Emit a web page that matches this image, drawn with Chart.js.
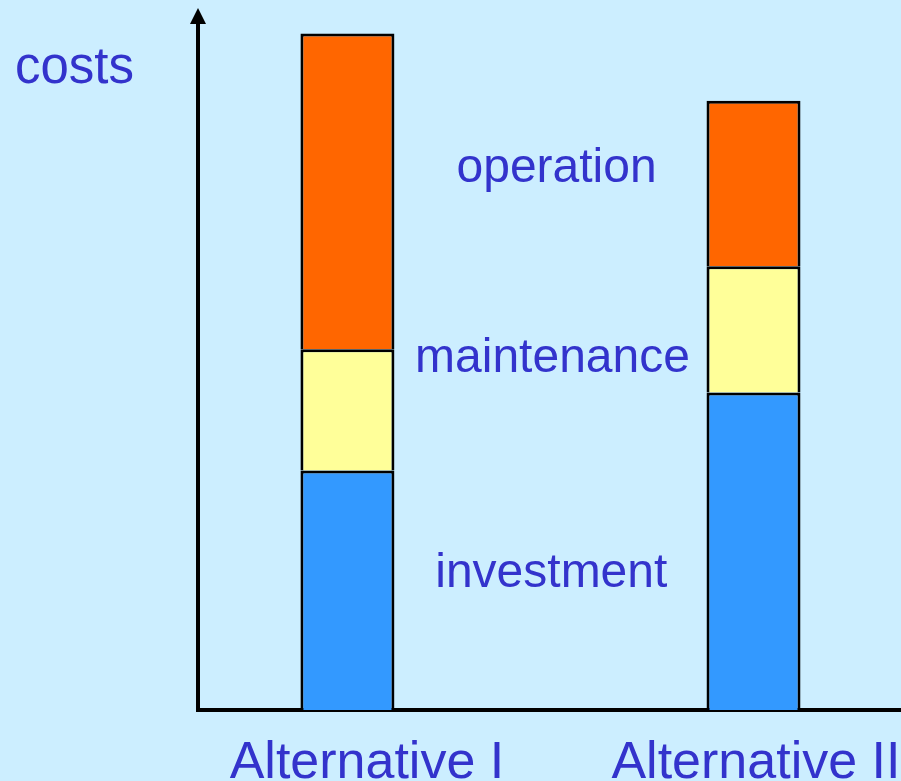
<!DOCTYPE html>
<html lang="en">
<head>
    <meta charset="UTF-8">
    <title>Costs of alternatives</title>
    <script src="https://cdn.jsdelivr.net/npm/chart.js"></script>
    <style>
        html, body { margin: 0; padding: 0; overflow: hidden; background-color: #cceeff; }
        #wrap { width: 1000px; height: 781px; }
    </style>
</head>
<body>
    <div id="wrap">
        <canvas id="costChart" width="1000" height="781"></canvas>
    </div>

    <script>
        // cost components per alternative (stacked from the bottom)
        const alternatives = ['Alternative I', 'Alternative II'];
        const altPositions = [1, 2];
        const investment = [34.9, 46.3];
        const maintenance = [17.7, 18.4];
        const operation = [46.0, 24.1];

        const textColor = '#3333cc';
        const fontFamily = '"Liberation Sans", Arial, Helvetica, sans-serif';

        // the category names sit a little right of the bar centres
        const labelShift = [0.048, 0.006];

        // component names written between the two bars: [text, x value, y value of baseline]
        const componentNames = [
            ['operation', 1.515, 77.0],
            ['maintenance', 1.505, 49.2],
            ['investment', 1.502, 18.0]
        ];

        function toPoints(values) {
            return values.map((v, i) => ({ x: altPositions[i], y: v }));
        }

        function barSet(label, values, color) {
            return {
                label: label,
                data: toPoints(values),
                backgroundColor: color,
                borderColor: '#000000',
                borderWidth: 3,
                borderSkipped: 'start',
                inflateAmount: 0,
                barThickness: 94
            };
        }

        // arrow head on the y axis, the "costs" caption and the component names
        const annotations = {
            id: 'annotations',
            afterDraw(chart) {
                const ctx = chart.ctx;
                const area = chart.chartArea;
                const xs = chart.scales.x;
                const ys = chart.scales.y;
                ctx.save();

                ctx.fillStyle = '#000000';
                ctx.beginPath();
                ctx.moveTo(area.left, area.top - 16);
                ctx.lineTo(area.left - 8, area.top);
                ctx.lineTo(area.left + 8, area.top);
                ctx.closePath();
                ctx.fill();

                ctx.fillStyle = textColor;
                ctx.textBaseline = 'alphabetic';
                ctx.textAlign = 'left';
                ctx.font = '51px ' + fontFamily;
                ctx.fillText('costs', 15, 83);

                ctx.textAlign = 'center';
                ctx.font = '48px ' + fontFamily;
                componentNames.forEach(([name, xv, yv]) => {
                    ctx.fillText(name, xs.getPixelForValue(xv), ys.getPixelForValue(yv));
                });
                ctx.restore();
            }
        };

        const ctx = document.getElementById('costChart').getContext('2d');
        const costChart = new Chart(ctx, {
            type: 'bar',
            data: {
                datasets: [
                    barSet('investment', investment, '#3399ff'),
                    barSet('maintenance', maintenance, '#ffff99'),
                    barSet('operation', operation, '#ff6600')
                ]
            },
            options: {
                responsive: false,
                animation: false,
                layout: { padding: { top: 24, right: 0, bottom: 0, left: 0 } },
                plugins: {
                    legend: { display: false },
                    tooltip: { enabled: false }
                },
                scales: {
                    x: {
                        type: 'linear',
                        stacked: true,
                        offset: false,
                        min: 0.632,
                        max: 2.607,
                        grid: { display: false, drawTicks: false, offset: false },
                        border: { display: true, color: '#000000', width: 4 },
                        afterBuildTicks: (scale) => {
                            scale.ticks = altPositions.map((v, i) => ({ value: v + labelShift[i] }));
                        },
                        afterFit: (scale) => { scale.height = 71; },
                        ticks: {
                            autoSkip: false,
                            maxRotation: 0,
                            padding: 22,
                            color: textColor,
                            font: { family: fontFamily, size: 52 },
                            callback: (value, index) => alternatives[index]
                        }
                    },
                    y: {
                        stacked: true,
                        min: 0,
                        max: 100,
                        grid: { display: false, drawTicks: false },
                        border: { display: true, color: '#000000', width: 4 },
                        ticks: { display: false },
                        afterFit: (scale) => { scale.width = 198; }
                    }
                }
            },
            plugins: [annotations]
        });
    </script>
</body>
</html>
